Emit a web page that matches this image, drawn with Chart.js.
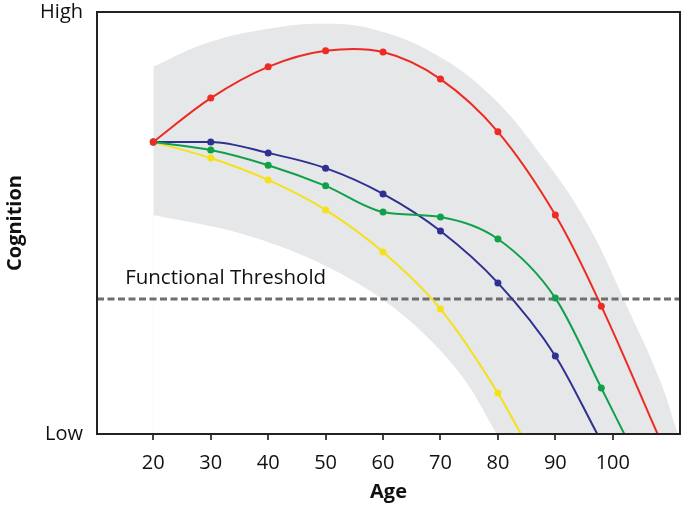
<!DOCTYPE html>
<html lang="en">
<head>
<meta charset="UTF-8">
<title>Cognition by Age</title>
<script src="https://cdn.jsdelivr.net/npm/chart.js"></script>
<style>
  body { margin: 0; background: #fff; }
  #wrap { width: 685px; height: 507px; }
</style>
</head>
<body>
<div id="wrap"><canvas id="chart"></canvas></div>
<script>
// axis
const xMin = 10.2, xMax = 111.7;
const xTicks = [20, 30, 40, 50, 60, 70, 80, 90, 100];
const yTickValues = [0, 100];
const yTickLabels = ['Low', 'High'];

// trajectories (last point is where the curve leaves the plot, no marker)
const redAges = [20, 30, 40, 50, 60, 70, 80, 90, 98, 107.8];
const redValues = [69.2, 79.6, 87.0, 90.8, 90.5, 84.1, 71.6, 51.9, 30.3, 0];
const blueAges = [20, 30, 40, 50, 60, 70, 80, 90, 97.3];
const blueValues = [69.2, 69.2, 66.6, 63.0, 56.9, 48.1, 35.8, 18.5, 0];
const greenAges = [20, 30, 40, 50, 60, 70, 80, 90, 98, 102];
const greenValues = [69.2, 67.3, 63.7, 58.8, 52.6, 51.4, 46.2, 32.2, 10.9, 0];
const yellowAges = [20, 30, 40, 50, 60, 70, 80, 84];
const yellowValues = [69.2, 65.4, 60.2, 53.1, 43.1, 29.6, 9.7, 0];

// grey range band
const bandUpperAges = [20, 29.4, 40.9, 50, 58.3, 68.7, 78.6, 87.8, 95.5, 103, 108.2, 111.3];
const bandUpperValues = [87.0, 92.7, 96.2, 97.2, 95.9, 90.3, 80.4, 65.6, 50.0, 28.7, 12.8, 0];
const bandLowerAges = [20, 35.1, 46.8, 58.3, 67.0, 74.6, 79.8];
const bandLowerValues = [51.9, 47.6, 41.9, 33.4, 23.9, 12.1, 0];

const thresholdValue = 32;
const thresholdLabel = 'Functional Threshold';

const pts = (xs, ys) => xs.map((x, i) => ({ x: x, y: ys[i] }));

function curve(label, xs, ys, color, order, tension) {
  return {
    label: label,
    data: pts(xs, ys),
    borderColor: color,
    backgroundColor: color,
    borderWidth: 2,
    cubicInterpolationMode: tension ? 'default' : 'monotone',
    tension: tension || 0,
    pointRadius: c => c.dataIndex < xs.length - 1 ? 3.5 : 0,
    pointBorderWidth: 0,
    fill: false,
    order: order
  };
}

Chart.defaults.font.family = "'Open Sans', sans-serif";
Chart.defaults.color = '#111';

const frame = {
  id: 'frame',
  afterDatasetsDraw(chart) {
    const { ctx, chartArea: a, scales } = chart;
    ctx.save();
    ctx.font = "20.5px 'Open Sans', sans-serif";
    ctx.fillStyle = '#111';
    ctx.textBaseline = 'middle';
    ctx.fillText(thresholdLabel, scales.x.getPixelForValue(15.1), scales.y.getPixelForValue(37));
    ctx.strokeStyle = '#222';
    ctx.lineWidth = 2;
    ctx.strokeRect(a.left, a.top, a.right - a.left, a.bottom - a.top);
    ctx.restore();
  }
};

new Chart(document.getElementById('chart'), {
  type: 'line',
  data: {
    datasets: [
      curve('Red', redAges, redValues, '#ee2a24', 1, 0.35),
      curve('Blue', blueAges, blueValues, '#2e3192', 3),
      curve('Green', greenAges, greenValues, '#0fa14a', 2),
      curve('Yellow', yellowAges, yellowValues, '#f4e11c', 4),
      {
        label: 'Threshold',
        data: pts([xMin, xMax], [thresholdValue, thresholdValue]),
        borderColor: '#6e6e6e',
        borderWidth: 3,
        borderDash: [7, 3.5],
        pointRadius: 0,
        fill: false,
        order: 8
      },
      {
        label: 'Band lower',
        data: pts(bandLowerAges, bandLowerValues),
        borderWidth: 0,
        borderColor: 'rgba(0,0,0,0)',
        backgroundColor: '#ffffff',
        cubicInterpolationMode: 'monotone',
        pointRadius: 0,
        fill: 'origin',
        order: 9
      },
      {
        label: 'Band upper',
        data: pts(bandUpperAges, bandUpperValues),
        borderWidth: 0,
        borderColor: 'rgba(0,0,0,0)',
        backgroundColor: '#e6e7e8',
        tension: 0.4,
        pointRadius: 0,
        fill: 'origin',
        order: 10
      }
    ]
  },
  options: {
    responsive: true,
    maintainAspectRatio: false,
    animation: false,
    layout: { padding: { top: 12, right: 5, left: 0, bottom: 0 } },
    plugins: {
      legend: { display: false },
      tooltip: { enabled: false }
    },
    scales: {
      x: {
        type: 'linear',
        min: xMin,
        max: xMax,
        afterFit: s => { s.height = 73; s.paddingLeft = 0; s.paddingRight = 0; },
        afterBuildTicks: s => { s.ticks = xTicks.map(v => ({ value: v })); },
        ticks: { font: { size: 20 }, padding: 11, maxRotation: 0, color: '#111' },
        grid: { drawOnChartArea: false, drawTicks: true, tickLength: 6, color: '#444', lineWidth: 2 },
        border: { display: true, color: '#222', width: 2 },
        title: { display: true, text: 'Age', font: { size: 20, weight: 'bold' }, padding: { top: 0, bottom: 3 }, color: '#111' }
      },
      y: {
        min: 0,
        max: 100,
        afterFit: s => { s.width = 97; s.paddingTop = 0; s.paddingBottom = 0; },
        afterBuildTicks: s => { s.ticks = yTickValues.map(v => ({ value: v })); },
        ticks: {
          font: { size: 20 },
          padding: 14,
          color: '#111',
          callback: v => yTickLabels[yTickValues.indexOf(v)]
        },
        grid: { display: false, drawTicks: false },
        border: { display: true, color: '#222', width: 2 },
        title: { display: true, text: 'Cognition', font: { size: 20, weight: 'bold' }, padding: { top: 3, bottom: 0 }, color: '#111' }
      }
    }
  },
  plugins: [frame]
});
</script>
</body>
</html>
